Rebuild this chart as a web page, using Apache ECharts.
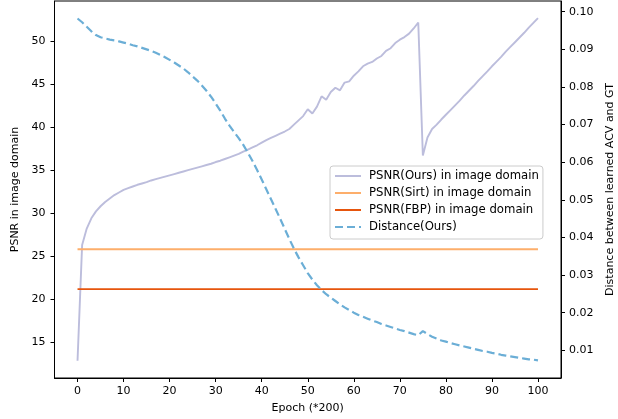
<!DOCTYPE html>
<html>
<head>
<meta charset="utf-8">
<script src="https://cdn.jsdelivr.net/npm/echarts@6/dist/echarts.min.js"></script>
<style>html,body{margin:0;padding:0;background:#fff;}#c{width:618px;height:419px;}</style>
</head>
<body>
<div id="c"></div>
<script>
const epochs = Array.from({length: 101}, (_, i) => i);
const psnrOurs = [
  12.8, 26.3, 28.2, 29.4, 30.2, 30.8, 31.3, 31.7, 32.1, 32.4,
  32.7, 32.9, 33.1, 33.3, 33.45, 33.6, 33.8, 33.95, 34.1, 34.25,
  34.4, 34.55, 34.7, 34.85, 35.0, 35.15, 35.3, 35.45, 35.6, 35.75,
  35.95, 36.1, 36.3, 36.5, 36.7, 36.9, 37.15, 37.4, 37.65, 37.9,
  38.2, 38.5, 38.75, 39.0, 39.25, 39.5, 39.8, 40.3, 40.8, 41.3,
  42.1, 41.6, 42.4, 43.6, 43.2, 44.1, 44.6, 44.3, 45.2, 45.35,
  46.0, 46.5, 47.1, 47.4, 47.6, 48.0, 48.3, 48.9, 49.2, 49.8,
  50.2, 50.5, 50.9, 51.5, 52.2, 36.7, 38.8, 39.8, 40.3, 40.9,
  41.45, 42.0, 42.55, 43.1, 43.7, 44.25, 44.8, 45.4, 45.95, 46.5,
  47.1, 47.65, 48.2, 48.8, 49.35, 49.9, 50.45, 51.0, 51.6, 52.15,
  52.7
];
const psnrSirt = 25.8;
const psnrFbp = 21.15;
const distance = [
  0.0982, 0.0972, 0.0960, 0.0948, 0.0938, 0.0932, 0.0929, 0.0926, 0.0924, 0.0921,
  0.0918, 0.0915, 0.0911, 0.0908, 0.0904, 0.0900, 0.0896, 0.0891, 0.0885, 0.0879,
  0.0872, 0.0865, 0.0857, 0.0849, 0.0839, 0.0828, 0.0817, 0.0804, 0.0790, 0.0774,
  0.0756, 0.0737, 0.0716, 0.0697, 0.0680, 0.0664, 0.0646, 0.0625, 0.0603, 0.0579,
  0.0554, 0.0528, 0.0502, 0.0476, 0.0450, 0.0423, 0.0396, 0.0370, 0.0347, 0.0326,
  0.0305, 0.0288, 0.0273, 0.0260, 0.0249, 0.0240, 0.0231, 0.0222, 0.0214, 0.0207,
  0.0200, 0.0194, 0.0189, 0.0184, 0.0179, 0.0175, 0.0170, 0.0166, 0.0162, 0.0158,
  0.0154, 0.0151, 0.0147, 0.0143, 0.0140, 0.0151, 0.0143, 0.0136, 0.0131, 0.0126,
  0.0123, 0.0119, 0.0116, 0.0113, 0.0110, 0.0107, 0.0104, 0.0101, 0.0098, 0.0096,
  0.0093, 0.0091, 0.0088, 0.0086, 0.0084, 0.0082, 0.0080, 0.0078, 0.0076, 0.0075,
  0.0073
];
const xTicks = [0, 10, 20, 30, 40, 50, 60, 70, 80, 90, 100];
const yLeftTicks = [15, 20, 25, 30, 35, 40, 45, 50];
const yRightTicks = [0.01, 0.02, 0.03, 0.04, 0.05, 0.06, 0.07, 0.08, 0.09, 0.10];
const seriesNames = ['PSNR(Ours) in image domain', 'PSNR(Sirt) in image domain', 'PSNR(FBP) in image domain', 'Distance(Ours)'];

const font = 'DejaVu Sans';
const axisCommon = {
  axisLine: {show: true, onZero: false, lineStyle: {color: '#000', width: 1}},
  axisTick: {show: true, inside: false, length: 4, lineStyle: {color: '#000', width: 1}},
  splitLine: {show: false},
  nameTextStyle: {fontFamily: font, fontSize: 11, color: '#000'}
};

const chart = echarts.init(document.getElementById('c'), null, {renderer: 'canvas'});
chart.setOption({
  animation: false,
  backgroundColor: '#fff',
  grid: {left: 54.5, right: 57, top: 1, bottom: 41, outerBoundsMode: 'none', containLabel: false,
         show: true, borderColor: '#000', borderWidth: 1, backgroundColor: 'transparent'},
  legend: {
    orient: 'vertical', left: 330, top: 166,
    data: seriesNames,
    itemWidth: 26, itemHeight: 12, itemGap: 5,
    padding: [4, 4, 6, 4],
    backgroundColor: 'rgba(255,255,255,0.8)',
    borderColor: '#cccccc', borderWidth: 1, borderRadius: 3,
    itemStyle: {opacity: 0},
    textStyle: {fontFamily: font, fontSize: 11.7, color: '#000', lineHeight: 12, padding: [0, 0, 0, 3]}
  },
  xAxis: Object.assign({}, axisCommon, {
    type: 'value', min: -5, max: 105,
    name: 'Epoch (*200)', nameLocation: 'middle', nameGap: 25,
    axisTick: Object.assign({}, axisCommon.axisTick, {customValues: xTicks}),
    axisLabel: {customValues: xTicks, fontFamily: font, fontSize: 11, color: '#000', margin: 8}
  }),
  yAxis: [
    Object.assign({}, axisCommon, {
      type: 'value', min: 10.8, max: 54.7, position: 'left',
      name: 'PSNR in image domain', nameLocation: 'middle', nameGap: 25,
      axisTick: Object.assign({}, axisCommon.axisTick, {customValues: yLeftTicks}),
      axisLabel: {customValues: yLeftTicks, fontFamily: font, fontSize: 11, color: '#000', margin: 9}
    }),
    Object.assign({}, axisCommon, {
      type: 'value', min: 0.00263, max: 0.10285, position: 'right',
      name: 'Distance between learned ACV and GT', nameLocation: 'middle', nameGap: 32,
      axisTick: Object.assign({}, axisCommon.axisTick, {customValues: yRightTicks}),
      axisLabel: {customValues: yRightTicks, fontFamily: font, fontSize: 11, color: '#000', margin: 8,
        formatter: v => v.toFixed(2)}
    })
  ],
  series: [
    {name: seriesNames[0], type: 'line', yAxisIndex: 0, symbol: 'none', z: 2,
     data: epochs.map((e, i) => [e, psnrOurs[i]]),
     lineStyle: {color: '#bcbddc', width: 1.9}, itemStyle: {color: '#bcbddc'}},
    {name: seriesNames[1], type: 'line', yAxisIndex: 0, symbol: 'none', z: 3,
     data: epochs.map(e => [e, psnrSirt]),
     lineStyle: {color: '#fdae6b', width: 1.9}, itemStyle: {color: '#fdae6b'}},
    {name: seriesNames[2], type: 'line', yAxisIndex: 0, symbol: 'none', z: 4,
     data: epochs.map(e => [e, psnrFbp]),
     lineStyle: {color: '#e6550d', width: 1.9}, itemStyle: {color: '#e6550d'}},
    {name: seriesNames[3], type: 'line', yAxisIndex: 1, symbol: 'none', z: 5,
     data: epochs.map((e, i) => [e, distance[i]]),
     lineStyle: {color: '#6baed6', width: 2.2, type: [8, 4]}, itemStyle: {color: '#6baed6'}}
  ]
});
</script>
</body>
</html>
